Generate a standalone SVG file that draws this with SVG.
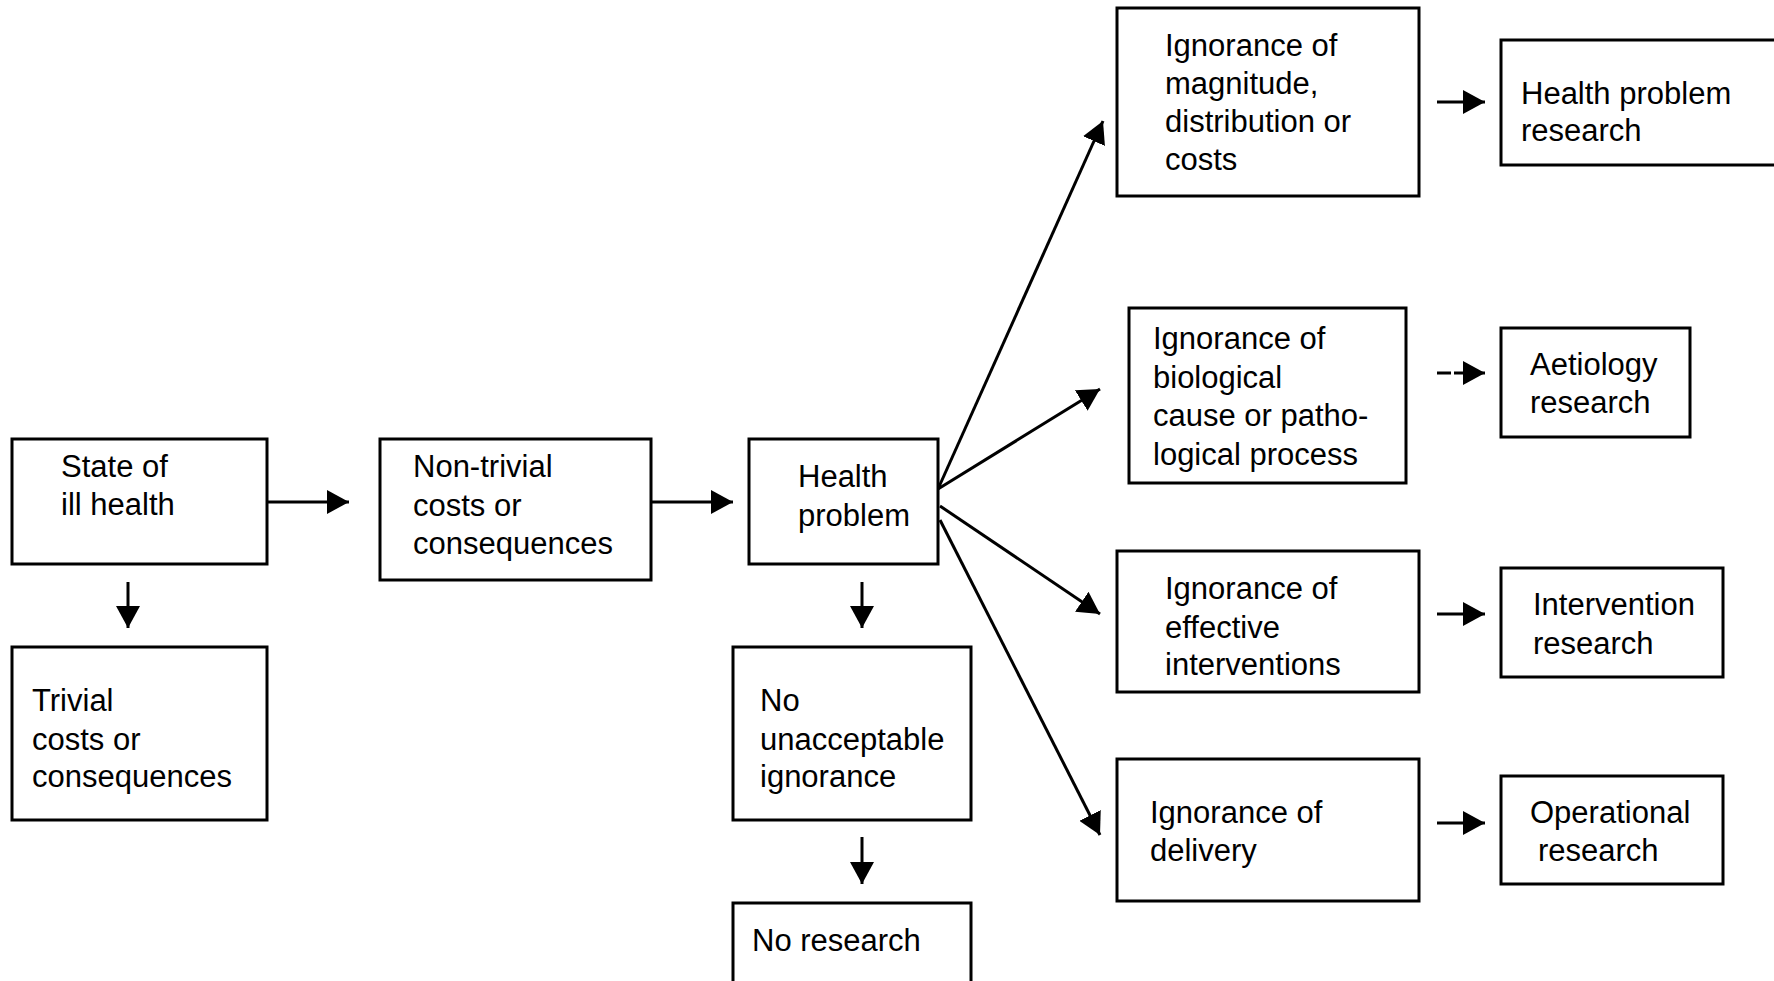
<svg xmlns="http://www.w3.org/2000/svg" width="1774" height="981" viewBox="0 0 1774 981">
  <style>
    .box { fill: #ffffff; stroke: #000000; stroke-width: 3; }
    .lbl { font-family: "Liberation Sans", Arial, sans-serif; font-size: 31px; fill: #000000; }
    .link { stroke: #000000; stroke-width: 3; fill: none; marker-end: url(#head); }
  </style>
  <defs>
    <marker id="head" viewBox="0 0 22 24" refX="22" refY="12" markerWidth="22" markerHeight="24" markerUnits="userSpaceOnUse" orient="auto">
      <path d="M0,0 L22,12 L0,24 Z" fill="#000000"/>
    </marker>
  </defs>
  <rect width="1774" height="981" fill="#ffffff"/>

  <!-- connectors -->
  <g id="connectors">
    <line class="link" x1="267" y1="502" x2="349" y2="502"/>
    <line class="link" x1="651" y1="502" x2="733" y2="502"/>
    <line class="link" x1="128" y1="582" x2="128" y2="628"/>
    <line class="link" x1="862" y1="582" x2="862" y2="628"/>
    <line class="link" x1="862" y1="837" x2="862" y2="884"/>
    <line class="link" x1="938" y1="489" x2="1103" y2="121"/>
    <line class="link" x1="938" y1="489" x2="1100" y2="389"/>
    <line class="link" x1="940" y1="506" x2="1100" y2="614"/>
    <line class="link" x1="940" y1="520" x2="1100" y2="835"/>
    <line class="link" x1="1437" y1="102" x2="1485" y2="102"/>
    <line class="link" x1="1437" y1="373" x2="1485" y2="373" stroke-dasharray="14 3 40"/>
    <line class="link" x1="1437" y1="614" x2="1485" y2="614"/>
    <line class="link" x1="1437" y1="823" x2="1485" y2="823"/>
  </g>

  <g id="state">
    <rect class="box" x="12" y="439" width="255" height="125"/>
    <text class="lbl"><tspan x="61" y="477">State of</tspan><tspan x="61" y="515">ill health</tspan></text>
  </g>
  <g id="nontrivial">
    <rect class="box" x="380" y="439" width="271" height="141"/>
    <text class="lbl"><tspan x="413" y="477">Non-trivial</tspan><tspan x="413" y="516">costs or</tspan><tspan x="413" y="554">consequences</tspan></text>
  </g>
  <g id="healthproblem">
    <rect class="box" x="749" y="439" width="189" height="125"/>
    <text class="lbl"><tspan x="798" y="487">Health</tspan><tspan x="798" y="526">problem</tspan></text>
  </g>
  <g id="trivial">
    <rect class="box" x="12" y="647" width="255" height="173"/>
    <text class="lbl"><tspan x="32" y="711">Trivial</tspan><tspan x="32" y="750">costs or</tspan><tspan x="32" y="787">consequences</tspan></text>
  </g>
  <g id="noignorance">
    <rect class="box" x="733" y="647" width="238" height="173"/>
    <text class="lbl"><tspan x="760" y="711">No</tspan><tspan x="760" y="750">unacceptable</tspan><tspan x="760" y="787">ignorance</tspan></text>
  </g>
  <g id="noresearch">
    <rect class="box" x="733" y="903" width="238" height="90"/>
    <text class="lbl" x="752" y="951">No research</text>
  </g>

  <g id="ign-magnitude">
    <rect class="box" x="1117" y="8" width="302" height="188"/>
    <text class="lbl"><tspan x="1165" y="56">Ignorance of</tspan><tspan x="1165" y="94">magnitude,</tspan><tspan x="1165" y="132">distribution or</tspan><tspan x="1165" y="170">costs</tspan></text>
  </g>
  <g id="res-healthproblem">
    <rect class="box" x="1501" y="40" width="290" height="125"/>
    <text class="lbl"><tspan x="1521" y="104">Health problem</tspan><tspan x="1521" y="141">research</tspan></text>
  </g>
  <g id="ign-biological">
    <rect class="box" x="1129" y="308" width="277" height="175"/>
    <text class="lbl"><tspan x="1153" y="349">Ignorance of</tspan><tspan x="1153" y="388">biological</tspan><tspan x="1153" y="426">cause or patho-</tspan><tspan x="1153" y="465">logical process</tspan></text>
  </g>
  <g id="res-aetiology">
    <rect class="box" x="1501" y="328" width="189" height="109"/>
    <text class="lbl"><tspan x="1530" y="375">Aetiology</tspan><tspan x="1530" y="413">research</tspan></text>
  </g>
  <g id="ign-interventions">
    <rect class="box" x="1117" y="551" width="302" height="141"/>
    <text class="lbl"><tspan x="1165" y="599">Ignorance of</tspan><tspan x="1165" y="638">effective</tspan><tspan x="1165" y="675">interventions</tspan></text>
  </g>
  <g id="res-intervention">
    <rect class="box" x="1501" y="568" width="222" height="109"/>
    <text class="lbl"><tspan x="1533" y="615">Intervention</tspan><tspan x="1533" y="654">research</tspan></text>
  </g>
  <g id="ign-delivery">
    <rect class="box" x="1117" y="759" width="302" height="142"/>
    <text class="lbl"><tspan x="1150" y="823">Ignorance of</tspan><tspan x="1150" y="861">delivery</tspan></text>
  </g>
  <g id="res-operational">
    <rect class="box" x="1501" y="776" width="222" height="108"/>
    <text class="lbl"><tspan x="1530" y="823">Operational</tspan><tspan x="1538" y="861">research</tspan></text>
  </g>
</svg>
